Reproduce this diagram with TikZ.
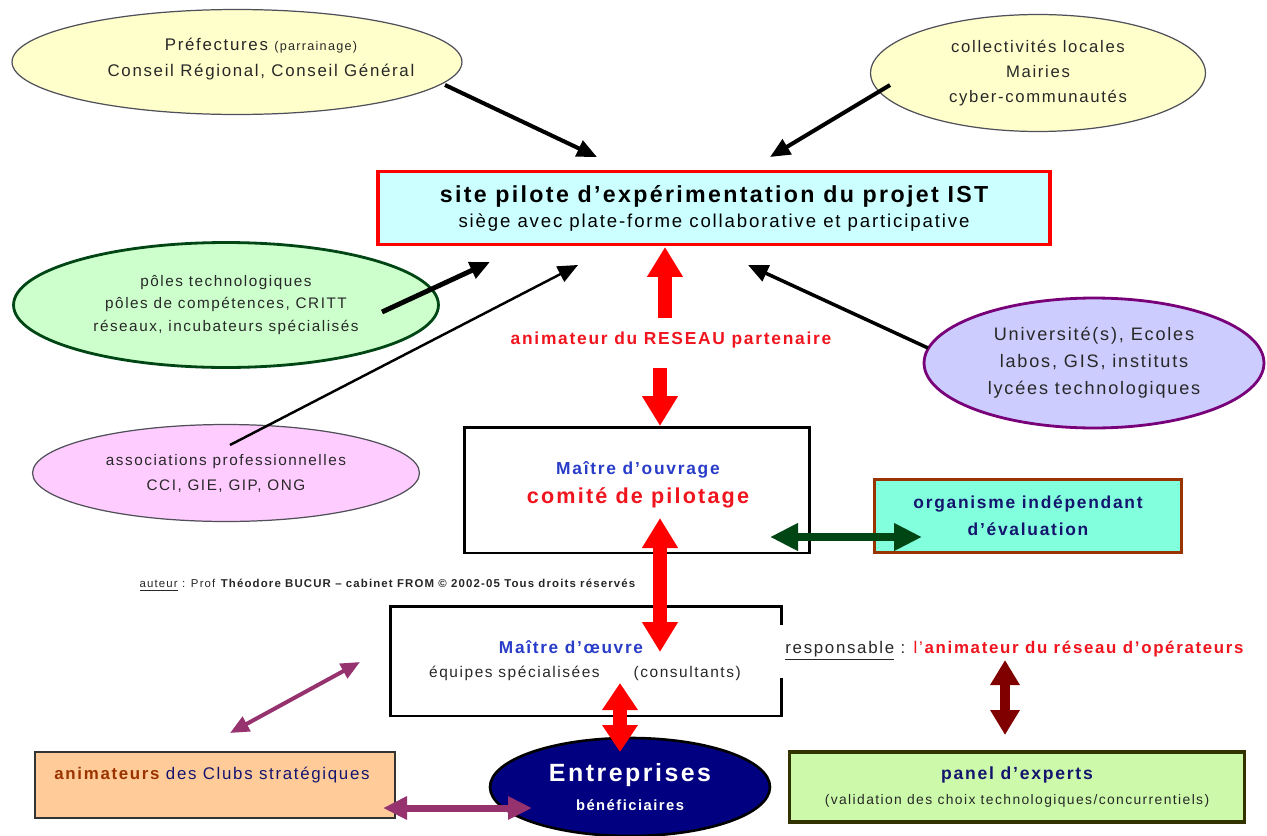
\documentclass[tikz,border=0pt]{standalone}
\usepackage{fontspec}
\setmainfont[LetterSpace=10]{Liberation Sans}
\usetikzlibrary{shapes.geometric,arrows.meta}
\definecolor{prefyellow}{RGB}{255,255,204}
\definecolor{sitecyan}{RGB}{204,255,255}
\definecolor{polegreen}{RGB}{204,255,204}
\definecolor{darkgreen}{RGB}{0,70,20}
\definecolor{univlilac}{RGB}{204,204,255}
\definecolor{univpurple}{RGB}{120,0,120}
\definecolor{assocpink}{RGB}{255,204,255}
\definecolor{evalaqua}{RGB}{130,255,220}
\definecolor{evalbrown}{RGB}{153,51,0}
\definecolor{navy}{RGB}{0,0,128}
\definecolor{textnavy}{RGB}{20,20,110}
\definecolor{ouvblue}{RGB}{40,60,200}
\definecolor{redtext}{RGB}{240,20,30}
\definecolor{arrowred}{RGB}{255,0,0}
\definecolor{maroon}{RGB}{128,0,0}
\definecolor{plum}{RGB}{150,50,110}
\definecolor{clubpeach}{RGB}{255,204,153}
\definecolor{panelgreen}{RGB}{204,250,170}
\definecolor{panelborder}{RGB}{51,51,0}
\definecolor{textgray}{RGB}{40,40,40}
\definecolor{ovalgray}{RGB}{80,80,90}
\newcommand{\fsz}[2]{\fontsize{#1}{#2}\selectfont}

\begin{document}
\begin{tikzpicture}[x=0.02cm,y=-0.02cm]
    \tikzstyle{every node}=[inner sep=0pt, align=center, text=textgray]
    \tikzstyle{oval}=[ellipse, draw=ovalgray, line width=0.7pt]
    \tikzstyle{box}=[rectangle, draw=black]
    \tikzstyle{blk}=[draw=black, -{Triangle[length=0.4cm,width=0.34cm]}]
    \tikzstyle{fat}=[draw=arrowred, line width=0.28cm, -{Triangle[length=0.6cm,width=0.68cm]}]
    \tikzstyle{fatboth}=[draw=arrowred, line width=0.28cm, {Triangle[length=0.6cm,width=0.68cm]}-{Triangle[length=0.6cm,width=0.68cm]}]
    \tikzstyle{evalarrow}=[draw=darkgreen, line width=0.16cm, {Triangle[length=0.56cm,width=0.52cm]}-{Triangle[length=0.56cm,width=0.52cm]}]
    \tikzstyle{respoarrow}=[draw=maroon, line width=0.2cm, {Triangle[length=0.5cm,width=0.56cm]}-{Triangle[length=0.5cm,width=0.56cm]}]
    \tikzstyle{clubarrow}=[draw=plum, line width=0.14cm, {Triangle[length=0.48cm,width=0.44cm]}-{Triangle[length=0.48cm,width=0.44cm]}]

    \useasboundingbox (0,0) rectangle (1267,835);

    \node (pref) [oval, fill=prefyellow, minimum width=9cm, minimum height=2.1cm] at (237,62) {};
    \node (preftext) [font=\fsz{9.6}{15.3}] at (261,59) {Préfectures {\fsz{7.2}{9}(parrainage)}\\Conseil Régional, Conseil Général};
    \node (coll) [oval, fill=prefyellow, minimum width=6.7cm, minimum height=2.34cm, font=\fsz{9.5}{14.2}] at (1038,73) {collectivités locales\\Mairies\\cyber-communautés};

    \node (site) [box, draw=arrowred, line width=2.2pt, fill=sitecyan, minimum width=13.44cm, minimum height=1.46cm, text=black, font=\fsz{10.6}{14.2}] at (714,208) {{\fsz{13.2}{14.2}\bfseries site pilote d’expérimentation du projet IST}\\siège avec plate-forme collaborative et participative};

    \node (poles) [oval, draw=darkgreen, line width=1.6pt, fill=polegreen, minimum width=8.5cm, minimum height=2.5cm, font=\fsz{8.7}{12.8}] at (226,305) {pôles technologiques\\pôles de compétences, CRITT\\réseaux, incubateurs spécialisés};
    \node (univ) [oval, draw=univpurple, line width=1.6pt, fill=univlilac, minimum width=6.8cm, minimum height=2.6cm, font=\fsz{10.3}{15.3}] at (1094,363) {Université(s), Ecoles\\labos, GIS, instituts\\lycées technologiques};
    \node (assoc) [oval, fill=assocpink, minimum width=7.74cm, minimum height=1.94cm, font=\fsz{8.7}{14.2}] at (226,473) {associations professionnelles\\CCI, GIE, GIP, ONG};

    \node (reseau) [text=redtext, font=\fsz{9.9}{12}\bfseries] at (671,340) {animateur du RESEAU partenaire};

    \node (ouvrage) [box, line width=1.7pt, minimum width=6.9cm, minimum height=2.52cm] at (637,490) {};
    \node (ouvtitle) [text=ouvblue, font=\fsz{9.9}{12}\bfseries] at (638,470) {Maître d’ouvrage};
    \node (comite) [text=redtext, font=\fsz{12.3}{14}\bfseries] at (638,498) {comité de pilotage};

    \node (eval) [box, draw=evalbrown, line width=1.6pt, fill=evalaqua, minimum width=6.14cm, minimum height=1.46cm, text=textnavy, font=\fsz{9.9}{15.3}\bfseries] at (1028,516) {organisme indépendant\\d’évaluation};

    \node (auteur) [text=black!85, font=\fsz{6.5}{8}] at (388,585) {\underline{auteur} : Prof \textbf{Théodore BUCUR – cabinet FROM © 2002-05 Tous droits réservés}};

    \node (oeuvre) [box, line width=1.7pt, minimum width=7.84cm, minimum height=2.2cm] at (586,661) {};
    \node (oeuvtitle) [text=ouvblue, font=\fsz{9.8}{12}\bfseries] at (571,647) {Maître d’œuvre};
    \node (equipes) [font=\fsz{8.8}{11}] at (585,673) {équipes spécialisées\hspace{2.2em}(consultants)};
    \node (respo) [anchor=west, fill=white, inner xsep=4pt, minimum height=1.06cm, font=\fsz{9.6}{12}] at (778,651) {\underline{responsable} : {\color{redtext}l’\textbf{animateur du réseau d’opérateurs}}};

    \node (clubs) [box, draw=black!80, line width=1.2pt, fill=clubpeach, minimum width=7.2cm, minimum height=1.32cm] at (215,785) {};
    \node (clubtext) [text=textnavy, font=\fsz{9.6}{12}] at (212,775) {{\color{evalbrown}\bfseries animateurs} des Clubs stratégiques};

    \node (entre) [ellipse, draw=black, line width=1.5pt, fill=navy, minimum width=5.6cm, minimum height=1.96cm, text=white, font=\fsz{8.4}{16.5}\bfseries] at (630,787) {{\fsz{14.2}{16.5}Entreprises}\\bénéficiaires};

    \node (panel) [box, draw=panelborder, line width=1.8pt, fill=panelgreen, minimum width=9.1cm, minimum height=1.4cm, font=\fsz{7.9}{14.2}] at (1017,787) {{\color{textnavy}\fsz{10}{14.2}\bfseries panel d’experts}\\(validation des choix technologiques/concurrentiels)};

    \coordinate (prefout) at (445,85);
    \coordinate (sitenw) at (597,157);
    \coordinate (collout) at (890,85);
    \coordinate (sitene) at (770,157);
    \coordinate (polesout) at (382,312);
    \coordinate (sitesw) at (490,262);
    \coordinate (assocout) at (230,445);
    \coordinate (sites) at (578,265);
    \coordinate (univout) at (928,348);
    \coordinate (sitese) at (748,265);
    \draw[blk, line width=2.3pt] (prefout) -- (sitenw);
    \draw[blk, line width=2.3pt] (collout) -- (sitene);
    \draw[blk, line width=2.8pt] (polesout) -- (sitesw);
    \draw[blk, line width=1.4pt] (assocout) -- (sites);
    \draw[blk, line width=2pt] (univout) -- (sitese);

    \coordinate (reseauup) at (665,318);
    \coordinate (sitefoot) at (665,247);
    \coordinate (reseaudown) at (660,368);
    \coordinate (ouvragetop) at (660,426);
    \coordinate (ouvragein) at (660,518);
    \coordinate (oeuvrein) at (660,652);
    \coordinate (oeuvrefoot) at (620,683);
    \coordinate (entretop) at (620,752);
    \draw[fat] (reseauup) -- (sitefoot);
    \draw[fat] (reseaudown) -- (ouvragetop);
    \draw[fatboth] (ouvragein) -- (oeuvrein);
    \draw[fatboth, {Triangle[length=0.54cm,width=0.68cm]}-{Triangle[length=0.54cm,width=0.68cm]}] (oeuvrefoot) -- (entretop);

    \coordinate (ouvrageeast) at (770,537);
    \coordinate (evalwest) at (922,537);
    \draw[evalarrow] (ouvrageeast) -- (evalwest);
    \coordinate (respofoot) at (1005,660);
    \coordinate (paneltop) at (1005,735);
    \draw[respoarrow] (respofoot) -- (paneltop);
    \coordinate (oeuvrewest) at (360,662);
    \coordinate (clubstop) at (230,733);
    \draw[clubarrow, line width=0.08cm, {Triangle[length=0.38cm,width=0.32cm]}-{Triangle[length=0.38cm,width=0.32cm]}] (oeuvrewest) -- (clubstop);
    \coordinate (clubsin) at (383,808);
    \coordinate (entrewest) at (532,808);
    \draw[clubarrow] (clubsin) -- (entrewest);
\end{tikzpicture}
\end{document}
